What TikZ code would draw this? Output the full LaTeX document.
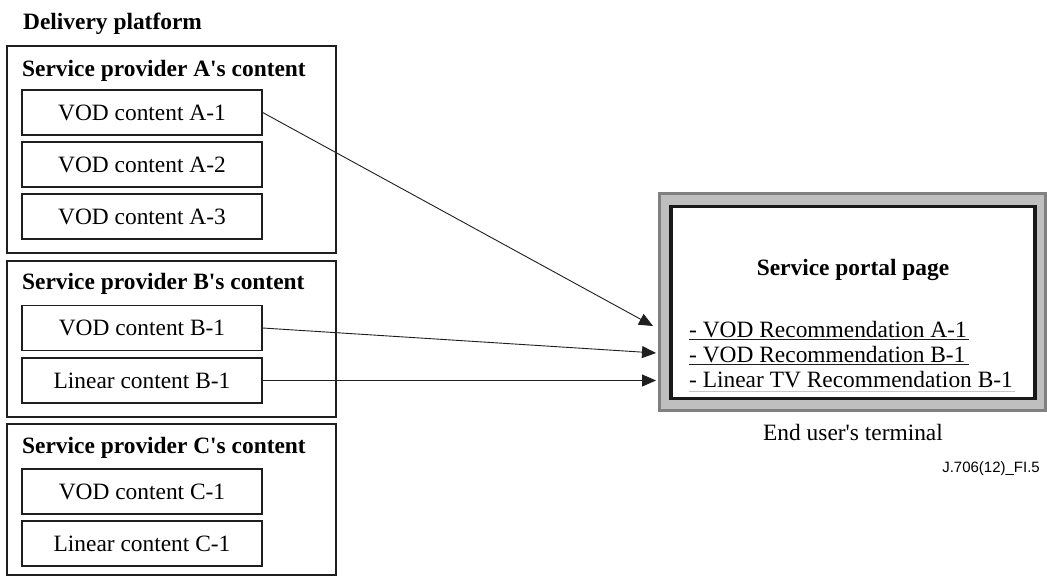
\documentclass[tikz,border=0pt]{standalone}
\usepackage{fontspec}
\setmainfont{Liberation Serif}
\newfontfamily\arialfont{Liberation Sans}
\usetikzlibrary{arrows.meta}
\newcommand{\aq}{\textquotesingle}
\begin{document}
\begin{tikzpicture}[x=1pt,y=-1pt,
  grp/.style={draw=black!88, line width=1.4pt, inner sep=0pt},
  item/.style={draw=black!88, line width=1.4pt, minimum width=240pt, minimum height=45pt, inner sep=0pt, text height=15.5pt, text depth=0pt, font=\fontsize{23.4}{28}\selectfont},
  ttl/.style={anchor=west, inner sep=0pt, text height=15.5pt, text depth=0pt, font=\fontsize{23.4}{28}\selectfont\bfseries},
  txt/.style={inner sep=0pt, text height=15.5pt, text depth=0pt, font=\fontsize{23.4}{28}\selectfont},
  rec/.style={anchor=base west, inner sep=0pt, font=\fontsize{23.4}{28}\selectfont},
  uline/.style={draw=black!88, line width=1.2pt},
  arr/.style={draw=black!88, line width=0.9pt, -{Triangle[length=14pt,width=12pt]}},
]
\useasboundingbox (0,0) rectangle (1047,576);
\fill[white] (0,0) rectangle (1047,576);

% Delivery platform
\node[ttl] (dp) at (23,22) {Delivery platform};

% group boxes
\node[grp, minimum width=329pt, minimum height=207pt] (GA) at (171.5,149.5) {};
\node[grp, minimum width=329pt, minimum height=156pt] (GB) at (171.5,339) {};
\node[grp, minimum width=329pt, minimum height=151pt] (GC) at (171.5,499.5) {};

\node[ttl] (tA) at (22,68.5) {Service provider A\aq s content};
\node[ttl] (tB) at (22,282) {Service provider B\aq s content};
\node[ttl] (tC) at (22,446) {Service provider C\aq s content};

% items
\node[item] (A1) at (142,112.5) {VOD content A-1};
\node[item] (A2) at (142,164.5) {VOD content A-2};
\node[item] (A3) at (142,216.5) {VOD content A-3};
\node[item] (B1) at (142,328) {VOD content B-1};
\node[item] (LB1) at (142,380.5) {Linear content B-1};
\node[item] (C1) at (142,491.5) {VOD content C-1};
\node[item] (LC1) at (142,543.5) {Linear content C-1};

% terminal
\node[draw=black!50, fill=black!25, line width=3.3pt, minimum width=385.7pt, minimum height=216.7pt, inner sep=0pt] (T) at (852.5,302) {};
\node[draw=black!90, fill=white, line width=3.8pt, minimum width=364pt, minimum height=192pt, inner sep=0pt] (P) at (853,302.5) {};

\node[txt, font=\fontsize{23.4}{28}\selectfont\bfseries] (pt) at (853,267.5) {Service portal page};
\node[rec] (R1) at (689,337) {- VOD Recommendation A-1};
\node[rec] (R2) at (689,362) {- VOD Recommendation B-1};
\node[rec] (R3) at (689,387) {- Linear TV Recommendation B-1};
\draw[uline] ([yshift=-2.5pt]R1.base west) -- ++(280,0);
\draw[uline] ([yshift=-2.5pt]R2.base west) -- ++(280,0);
\draw[draw=gray!45, line width=0.8pt] ([yshift=-4pt]R3.base west) -- ++(326,0);

\node[txt] (eu) at (853,432.5) {End user\aq s terminal};
\node[inner sep=0pt, anchor=east, font=\arialfont\fontsize{15}{18}\selectfont] (fig) at (1040,469) {J.706(12)\_FI.5};

% arrows
\coordinate (hA) at (653,326);
\coordinate (hB) at (656,353);
\draw[arr] (A1.east) -- (hA);
\draw[arr] (B1.east) -- (hB);
\draw[arr] (LB1.east) -- ([xshift=-2pt]LB1.east -| T.west);
\end{tikzpicture}
\end{document}
